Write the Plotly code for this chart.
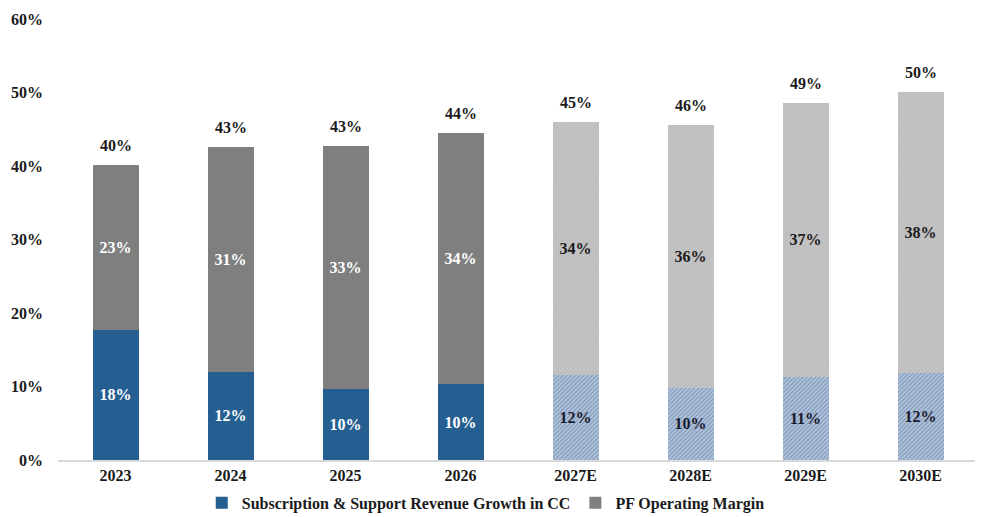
import plotly.graph_objects as go

years = ["2023", "2024", "2025", "2026", "2027E", "2028E", "2029E", "2030E"]
growth = [17.7, 12.0, 9.7, 10.3, 11.6, 9.8, 11.3, 11.8]
margin = [22.4, 30.6, 33.0, 34.2, 34.4, 35.8, 37.3, 38.3]
growth_labels = ["18%", "12%", "10%", "10%", "12%", "10%", "11%", "12%"]
margin_labels = ["23%", "31%", "33%", "34%", "34%", "36%", "37%", "38%"]
total_labels = ["40%", "43%", "43%", "44%", "45%", "46%", "49%", "50%"]
n_hist = 4

FONT = "Liberation Serif"
FS = 16
totals = [g + m for g, m in zip(growth, margin)]

hx, fx = years[:n_hist], years[n_hist:]

def seg(x, y, text, name, marker, tcolor, group, show):
    return go.Bar(
        x=x, y=y, name=name, marker=marker,
        text=text, textposition="inside", insidetextanchor="middle",
        textangle=0, constraintext="none",
        textfont=dict(family=FONT, size=FS, color=tcolor, weight="bold"),
        legendgroup=group, showlegend=show, hoverinfo="skip")

fig = go.Figure()
fig.add_trace(seg(hx, growth[:n_hist], growth_labels[:n_hist],
                  "Subscription & Support Revenue Growth in CC",
                  dict(color="#255E91", line=dict(width=0)), "white", "g", True))
fig.add_trace(seg(fx, growth[n_hist:], growth_labels[n_hist:],
                  "Subscription & Support Revenue Growth in CC",
                  dict(color="#8FA8C9", line=dict(width=0),
                       pattern=dict(shape="/", fgcolor="#3D6498", bgcolor="#B3C3DA",
                                    size=3, solidity=0.35)),
                  "#1A1A2E", "g", False))
fig.add_trace(seg(hx, margin[:n_hist], margin_labels[:n_hist], "PF Operating Margin",
                  dict(color="#7F7F7F", line=dict(width=0)), "white", "m", True))
fig.add_trace(seg(fx, margin[n_hist:], margin_labels[n_hist:], "PF Operating Margin",
                  dict(color="#BFBFBF", line=dict(width=0),
                       pattern=dict(shape="/", fgcolor="#ADADAD", bgcolor="#C4C4C4",
                                    size=3, solidity=0.3)),
                  "#1A1A1A", "m", False))

for i, (t, lab) in enumerate(zip(totals, total_labels)):
    fig.add_annotation(x=i, y=t, text=lab, showarrow=False, yanchor="bottom",
                       yshift=9, font=dict(family=FONT, size=FS, color="#1A1A1A", weight="bold"))

fig.update_layout(
    width=975, height=509, barmode="stack", bargap=0.6,
    margin=dict(l=50, r=5, t=11, b=57, autoexpand=False),
    plot_bgcolor="white", paper_bgcolor="white",
    font=dict(family=FONT, size=FS, color="#1A1A1A"),
    showlegend=True,
    legend=dict(orientation="h", xref="container", yref="container",
                x=0.49, xanchor="center", y=0.028, yanchor="middle",
                font=dict(family=FONT, size=FS, color="#1A1A1A", weight="bold"),
                traceorder="normal", itemwidth=30, bgcolor="rgba(0,0,0,0)"),
    xaxis=dict(type="category", categoryorder="array", categoryarray=years,
               range=[-0.5, len(years) - 0.5],
               showline=True, linecolor="#D9D9D9", linewidth=1.5, ticks="",
               tickfont=dict(family=FONT, size=FS, color="#1A1A1A", weight="bold"),
               showgrid=False),
    yaxis=dict(range=[0, 60], dtick=10, ticksuffix="%", showgrid=False,
               zeroline=False, showline=False, ticklabelstandoff=14,
               tickfont=dict(family=FONT, size=FS, color="#1A1A1A", weight="bold")),
)

fig.write_html("out.html")
